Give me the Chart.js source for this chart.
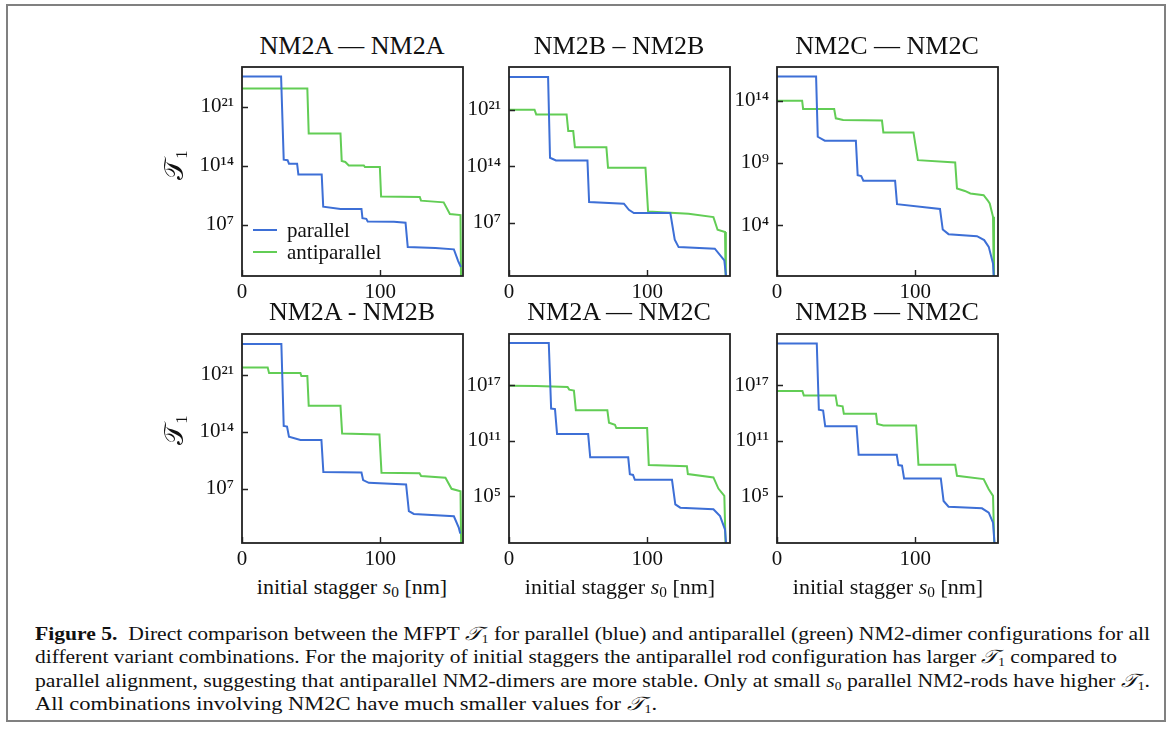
<!DOCTYPE html>
<html>
<head>
<meta charset="utf-8">
<script src="https://cdn.jsdelivr.net/npm/chart.js@4.4.1/dist/chart.umd.min.js"></script>
<style>
  body { margin: 0; background: #fff; width: 1174px; height: 737px; position: relative; overflow: hidden;
         font-family: "Liberation Serif", "DejaVu Serif", serif; color: #111; }
  .frame { position: absolute; left: 6px; top: 4px; width: 1160px; height: 718px; box-sizing: border-box;
           border: 2px solid #808080; }
  canvas { position: absolute; }
  .ttl { position: absolute; font-size: 26px; line-height: 30px; white-space: nowrap; transform: translateX(-50%); }
  .xlab { position: absolute; font-size: 22px; line-height: 28px; white-space: nowrap; transform: translateX(-50%); }
  .ylab { position: absolute; font-size: 27px; line-height: 30px; white-space: nowrap; transform: translate(-50%, -50%) rotate(-90deg); }
  .ylab sub, .cap sub { font-size: 0.62em; vertical-align: -0.25em; font-style: normal; }
  .xlab sub { font-size: 0.7em; vertical-align: -0.2em; }
  .leg { position: absolute; left: 253px; font-size: 21px; line-height: 22px; }
  .leg div { position: relative; height: 22px; white-space: nowrap; }
  .leg span.sw { position: absolute; left: 0; top: 10px; width: 24px; height: 2px; }
  .leg span.tx { position: absolute; left: 34px; top: 0; }
  .cap { position: absolute; left: 35px; font-size: 19px; line-height: 23px; white-space: nowrap; transform-origin: 0 50%; }
</style>
</head>
<body>
<div class="frame"></div>

<canvas id="c0" width="304" height="245"></canvas>
<canvas id="c1" width="304" height="245"></canvas>
<canvas id="c2" width="304" height="245"></canvas>
<canvas id="c3" width="304" height="245"></canvas>
<canvas id="c4" width="304" height="245"></canvas>
<canvas id="c5" width="304" height="245"></canvas>

<div id="titles"></div>

<div class="ylab" style="left:178px; top:165px;">𝒯<sub>1</sub></div>
<div class="ylab" style="left:178px; top:430px;">𝒯<sub>1</sub></div>

<div class="xlab" style="left:352px; top:573px;">initial stagger <i>s</i><sub>0</sub> [nm]</div>
<div class="xlab" style="left:620px; top:573px;">initial stagger <i>s</i><sub>0</sub> [nm]</div>
<div class="xlab" style="left:888px; top:573px;">initial stagger <i>s</i><sub>0</sub> [nm]</div>

<div class="leg" style="top:219px;">
  <div><span class="sw" style="background:#3d6fd6"></span><span class="tx">parallel</span></div>
  <div><span class="sw" style="background:#62cd55"></span><span class="tx">antiparallel</span></div>
</div>

<div class="cap" data-w="1115" style="top:622px;"><b>Figure 5.</b>&nbsp; Direct comparison between the MFPT <i>𝒯</i><sub>1</sub> for parallel (blue) and antiparallel (green) NM2-dimer configurations for all</div>
<div class="cap" data-w="1082" style="top:645px;">different variant combinations. For the majority of initial staggers the antiparallel rod configuration has larger <i>𝒯</i><sub>1</sub> compared to</div>
<div class="cap" data-w="1115" style="top:669px;">parallel alignment, suggesting that antiparallel NM2-dimers are more stable. Only at small <i>s</i><sub>0</sub> parallel NM2-rods have higher <i>𝒯</i><sub>1</sub>.</div>
<div class="cap" data-w="622" style="top:692px;">All combinations involving NM2C have much smaller values for <i>𝒯</i><sub>1</sub>.</div>

<script>
// panel titles, reading order
const titles = ['NM2A — NM2A', 'NM2B – NM2B', 'NM2C — NM2C', 'NM2A - NM2B', 'NM2A — NM2C', 'NM2B — NM2C'];

// x ticks (initial stagger s0, nm)
const xTicks = [0, 100];

// y ticks per panel (powers of ten)
const yTicks = [
    [1e7, 1e14, 1e21], [1e7, 1e14, 1e21], [1e4, 1e9, 1e14],
    [1e7, 1e14, 1e21], [1e5, 1e11, 1e17], [1e5, 1e11, 1e17]
];

// y axis range per panel, as log10 exponents [min, max]
const yRange = [[0.93, 25.7], [0.4, 26.3], [-0.08, 16.7], [0.35, 26.0], [-0.04, 22.5], [-0.04, 22.5]];

// MFPT curves: [s0, log10(T1)]
const aaPar = [[0,24.58],[28.3,24.58],[30.2,14.72],[33,14.65],[34,14.24],[39.9,14.24],[40.8,12.97],[57.7,12.97],[58.8,9.15],[71.3,8.87],[86.5,8.87],[87.2,7.79],[90,7.7],[91,7.4],[110,7.35],[118.4,7.24],[120,4.37],[140,4.25],[153.4,4.09],[156.5,2.7],[158.5,2.0]];
const aaAnti = [[0,23.15],[47.3,23.15],[48.3,17.82],[71.3,17.82],[72.2,14.56],[74.8,14.45],[77.3,14.04],[88.2,14.04],[89,13.84],[99.8,13.84],[100.7,10.34],[128.7,10.3],[129.6,9.86],[146,9.66],[150.5,8.27],[158.2,8.15],[158.7,-2]];

const bbPar = [[0,25.05],[28.3,25.05],[29.7,15.05],[34,14.72],[56.8,14.72],[58,9.56],[83.2,9.36],[86.8,8.6],[90.4,8.2],[116.8,8.2],[120,4.89],[122.8,3.98],[149,3.78],[155.9,2.33],[158,-1]];
const bbAnti = [[0,21],[18.5,21],[19.7,20.42],[41.7,20.42],[42.9,18.36],[46.5,18.36],[47.7,16.37],[70.5,16.37],[71.7,13.81],[98.8,13.81],[100.7,8.4],[130,8.1],[148,7.7],[151,6.13],[156.4,5.85],[157,-2]];

const ccPar = [[0,15.93],[28.3,15.93],[29.5,11.1],[34.6,10.78],[57.1,10.78],[58.4,8.02],[61,7.95],[62.5,7.57],[85.5,7.57],[86.9,5.69],[108.5,5.42],[118,5.3],[120,3.65],[124.2,3.28],[144.8,3.12],[150,2.8],[153.3,2.26],[156.4,0.92],[157.4,-1]];
const ccAnti = [[0,14],[18.2,14],[18.9,13.33],[41.4,13.33],[42.6,12.58],[47.9,12.45],[76,12.4],[77,11.45],[98.8,11.45],[102,9.22],[129,9.03],[130.3,6.95],[136,6.75],[140,6.55],[149.6,6.41],[152.5,6.0],[154,5.74],[156.4,4.67],[157.1,-2]];

const abPar = [[0,24.78],[28.5,24.78],[30.2,14.72],[32.6,14.64],[34,13.4],[42.3,13.0],[57.5,13.0],[58.9,9.05],[86.5,9.0],[87.7,8.07],[91.8,7.74],[118.8,7.54],[120.8,4.25],[124.4,3.92],[153.4,3.63],[157,2.2],[158,1.5]];
const abAnti = [[0,21.9],[18.6,21.9],[19.6,21.2],[42.3,21.2],[43,20.85],[47.3,20.85],[48.3,17.18],[71.3,17.18],[72.5,13.8],[99.5,13.68],[101,8.97],[128.5,8.9],[129.7,8.56],[147.3,8.35],[151.7,7.0],[158.2,6.7],[158.8,-2]];

const acPar = [[0,21.53],[28.8,21.53],[30.5,14.46],[33.3,14.4],[34.8,11.71],[57.3,11.71],[58.8,9.2],[86.3,9.2],[87.5,7.39],[89.8,7.3],[91.1,6.78],[118,6.78],[120.4,4.13],[124,3.77],[148,3.6],[152.8,2.86],[156.4,1.41],[157.6,-1]];
const acAnti = [[0,16.93],[19.7,16.9],[42.4,16.78],[43.6,16.5],[47,16.4],[48.4,14.28],[71.2,14.28],[72.4,12.94],[76.7,12.72],[77.7,12.36],[100,12.36],[101.2,8.37],[128.8,8.23],[129.5,7.39],[148,7.03],[151.6,5.83],[155.9,5.04],[157.1,-2]];

const bcPar = [[0,21.48],[28.8,21.48],[30.3,14.33],[33.4,14.25],[34.9,12.55],[57.6,12.55],[59.1,9.48],[86.7,9.48],[87.9,8.36],[90.5,8.3],[92,6.92],[118.6,6.92],[120.6,4.49],[124.2,3.88],[148.4,3.7],[153.3,3.23],[156.4,2.15],[157.9,-1]];
const bcAnti = [[0,16.35],[18.4,16.35],[19.4,15.88],[42.4,15.88],[43.6,14.8],[47.5,14.7],[48.4,13.89],[71.7,13.89],[72.6,12.81],[77,12.63],[100.7,12.63],[102.4,8.4],[129,8.4],[130.3,7.21],[149.6,6.85],[153.3,5.76],[156.4,5.04],[157.6,-2]];

const parallelSets = [aaPar, bbPar, ccPar, abPar, acPar, bcPar];
const antiSets = [aaAnti, bbAnti, ccAnti, abAnti, acAnti, bcAnti];

const BLUE = '#3d6fd6';
const GREEN = '#62cd55';

// plot box positions on the page
const boxLeft = [242, 509, 777];
const boxTop = [67, 334];
const AXIS_W = 75, AXIS_H = 30, PAD_T = 6;

const supDigits = {'0':'⁰','1':'¹','2':'²','3':'³','4':'⁴','5':'⁵','6':'⁶','7':'⁷','8':'⁸','9':'⁹','-':'⁻'};

function powLabel(v) {
    const e = String(Math.round(Math.log10(v)));
    return '10' + e.split('').map(c => supDigits[c]).join('');
}

function toPoints(arr) {
    return arr.map(p => ({x: p[0], y: Math.pow(10, p[1])}));
}

// matplotlib style frame with inward ticks
const framePlugin = {
    id: 'frame',
    afterDraw(chart) {
        const ctx = chart.ctx;
        const a = chart.chartArea;
        const x = chart.scales.x, y = chart.scales.y;
        ctx.save();
        ctx.strokeStyle = '#222';
        ctx.lineWidth = 1.4;
        ctx.beginPath();
        x.ticks.forEach(t => {
            const px = Math.round(x.getPixelForValue(t.value)) + 0.5;
            ctx.moveTo(px, a.bottom);
            ctx.lineTo(px, a.bottom - 6);
        });
        y.ticks.forEach(t => {
            const py = Math.round(y.getPixelForValue(t.value)) + 0.5;
            ctx.moveTo(a.left, py);
            ctx.lineTo(a.left + 6, py);
        });
        ctx.stroke();
        ctx.lineWidth = 1.8;
        ctx.strokeRect(a.left, a.top, a.right - a.left, a.bottom - a.top);
        ctx.restore();
    }
};

const tickFont = {family: '"Liberation Serif", "DejaVu Serif", serif', size: 21};

let charts = [];

function makePanel(i) {
    const col = i % 3, row = Math.floor(i / 3);
    const cv = document.getElementById('c' + i);
    cv.style.left = (boxLeft[col] - AXIS_W) + 'px';
    cv.style.top = (boxTop[row] - PAD_T) + 'px';

    const t = document.createElement('div');
    t.className = 'ttl';
    t.textContent = titles[i];
    t.style.left = (boxLeft[col] + 110) + 'px';
    t.style.top = (row === 0 ? 31 : 297) + 'px';
    document.getElementById('titles').appendChild(t);

    charts[i] = new Chart(cv.getContext('2d'), {
        type: 'line',
        data: {
            datasets: [
                {
                    label: 'parallel',
                    data: toPoints(parallelSets[i]),
                    borderColor: BLUE,
                    borderWidth: 2,
                    pointRadius: 0,
                    tension: 0,
                    fill: false
                },
                {
                    label: 'antiparallel',
                    data: toPoints(antiSets[i]),
                    borderColor: GREEN,
                    borderWidth: 2,
                    pointRadius: 0,
                    tension: 0,
                    fill: false
                }
            ]
        },
        options: {
            responsive: false,
            animation: false,
            events: [],
            layout: { padding: { left: 0, top: PAD_T, right: 8, bottom: 0 } },
            plugins: {
                legend: { display: false },
                tooltip: { enabled: false }
            },
            scales: {
                x: {
                    type: 'linear',
                    min: 0,
                    max: 160,
                    bounds: 'data',
                    grid: { display: false, drawTicks: false },
                    border: { display: false },
                    afterBuildTicks: function(s) {
                        s.ticks = xTicks.map(v => ({value: v}));
                    },
                    afterFit: function(s) {
                        s.height = AXIS_H;
                        s.paddingLeft = 0;
                        s.paddingRight = 0;
                    },
                    ticks: {
                        font: tickFont,
                        color: '#111',
                        padding: 4,
                        maxRotation: 0,
                        autoSkip: false,
                        callback: function(value) {
                            return String(value);
                        }
                    }
                },
                y: {
                    type: 'logarithmic',
                    min: Math.pow(10, yRange[i][0]),
                    max: Math.pow(10, yRange[i][1]),
                    bounds: 'data',
                    grid: { display: false, drawTicks: false },
                    border: { display: false },
                    afterBuildTicks: function(s) {
                        s.ticks = yTicks[i].map(v => ({value: v}));
                    },
                    afterFit: function(s) {
                        s.width = AXIS_W;
                        s.paddingTop = 0;
                        s.paddingBottom = 0;
                    },
                    ticks: {
                        font: tickFont,
                        color: '#111',
                        padding: 8,
                        autoSkip: false,
                        callback: function(value) {
                            return powLabel(value);
                        }
                    }
                }
            }
        },
        plugins: [framePlugin]
    });
}

for (let i = 0; i < 6; i++) {
    makePanel(i);
}

// squeeze caption lines to the widths of the printed caption
document.querySelectorAll('.cap').forEach(el => {
    const target = parseFloat(el.dataset.w);
    const w = el.getBoundingClientRect().width;
    el.style.transform = 'scaleX(' + (target / w) + ')';
});
</script>
</body>
</html>
